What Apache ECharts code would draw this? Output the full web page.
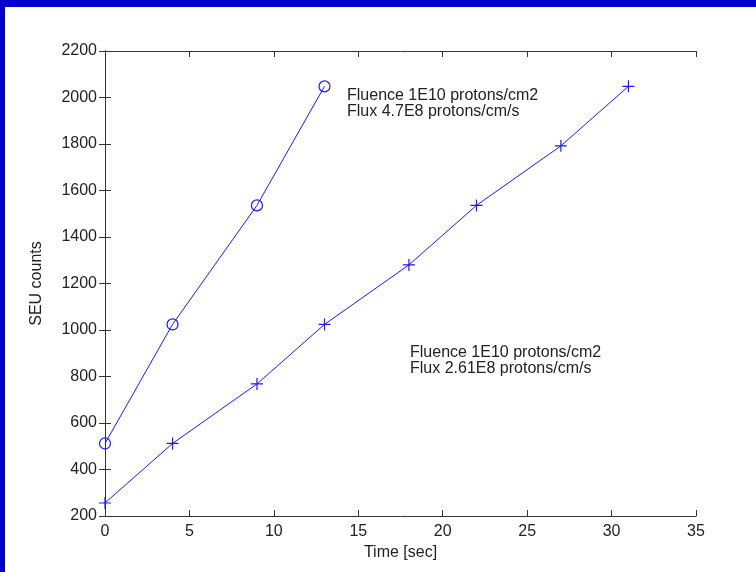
<!DOCTYPE html>
<html>
<head>
<meta charset="UTF-8">
<title>SEU counts vs time</title>
<script src="https://cdn.jsdelivr.net/npm/echarts@6/dist/echarts.min.js"></script>
<style>
  body { margin:0; background:#fff; }
  #main { position:absolute; left:0; top:0; width:756px; height:572px; }
  .bar-top { position:absolute; left:0; top:0; width:756px; height:7px; background:#0000cc; }
  .bar-left { position:absolute; left:0; top:0; width:5px; height:572px; background:#0000cc; }
</style>
</head>
<body>
<div id="main"></div>
<div class="bar-top"></div>
<div class="bar-left"></div>
<script>
// flux 4.7E8 run (circles)
var timeHigh = [0, 4, 9, 13];
var countsHigh = [512, 1024, 1536, 2048];
// flux 2.61E8 run (plus)
var timeLow = [0, 4, 9, 13, 18, 22, 27, 31];
var countsLow = [256, 512, 768, 1024, 1280, 1536, 1792, 2048];

var noteHigh = ['Fluence 1E10 protons/cm2', 'Flux 4.7E8 protons/cm/s'];
var noteLow = ['Fluence 1E10 protons/cm2', 'Flux 2.61E8 protons/cm/s'];

function pairs(xs, ys) {
  var out = [];
  for (var i = 0; i < xs.length; i++) out.push([xs[i], ys[i]]);
  return out;
}

var lineCol = '#1a1aff';
var axisCol = '#333';
var txtCol = '#222';
var font = 'Liberation Sans, Arial, sans-serif';
var fs = 16;

var boxAxis = {
  axisLine: { show: true, lineStyle: { color: axisCol, width: 1 } },
  axisTick: { show: true, inside: true, length: 6, lineStyle: { color: axisCol } },
  splitLine: { show: false }
};

var myChart = echarts.init(document.getElementById('main'), null, { renderer: 'canvas' });
var option = {
  animation: false,
  backgroundColor: '#fff',
  grid: { left: 105, top: 51, right: 60, bottom: 56 },
  xAxis: [
    Object.assign({
      type: 'value', position: 'bottom', min: 0, max: 35, interval: 5,
      name: 'Time [sec]', nameLocation: 'middle', nameGap: 29,
      nameTextStyle: { color: txtCol, fontSize: fs, fontFamily: font },
      axisLabel: { color: txtCol, fontSize: fs, fontFamily: font, margin: 8, formatter: function (v) { return String(v); } }
    }, boxAxis),
    Object.assign({
      type: 'value', position: 'top', min: 0, max: 35, interval: 5,
      axisLabel: { show: false }
    }, boxAxis)
  ],
  yAxis: [
    Object.assign({
      type: 'value', position: 'left', min: 200, max: 2200, interval: 200,
      name: 'SEU counts', nameLocation: 'middle', nameGap: 60,
      nameTextStyle: { color: txtCol, fontSize: fs, fontFamily: font },
      axisLabel: { color: txtCol, fontSize: fs, fontFamily: font, margin: 8, formatter: function (v) { return String(v); } }
    }, boxAxis),
    Object.assign({
      type: 'value', position: 'right', min: 200, max: 2200, interval: 200,
      axisLabel: { show: false }
    }, boxAxis)
  ],
  series: [
    {
      type: 'line',
      data: pairs(timeHigh, countsHigh),
      symbol: 'circle', symbolSize: 11,
      lineStyle: { color: lineCol, width: 1 },
      itemStyle: { color: 'none', borderColor: lineCol, borderWidth: 1.2 }
    },
    {
      type: 'line',
      data: pairs(timeLow, countsLow),
      symbol: 'path://M0,5L10,5M5,0L5,10', symbolSize: 12,
      lineStyle: { color: lineCol, width: 1 },
      itemStyle: { color: 'none', borderColor: lineCol, borderWidth: 1.2 }
    }
  ],
  graphic: [
    {
      type: 'text', left: 347, top: 88,
      style: { text: noteHigh.join('\n'), fill: txtCol, fontSize: fs, lineHeight: 16, fontFamily: font }
    },
    {
      type: 'text', left: 410, top: 345,
      style: { text: noteLow.join('\n'), fill: txtCol, fontSize: fs, lineHeight: 16, fontFamily: font }
    }
  ]
};
myChart.setOption(option);
</script>
</body>
</html>
